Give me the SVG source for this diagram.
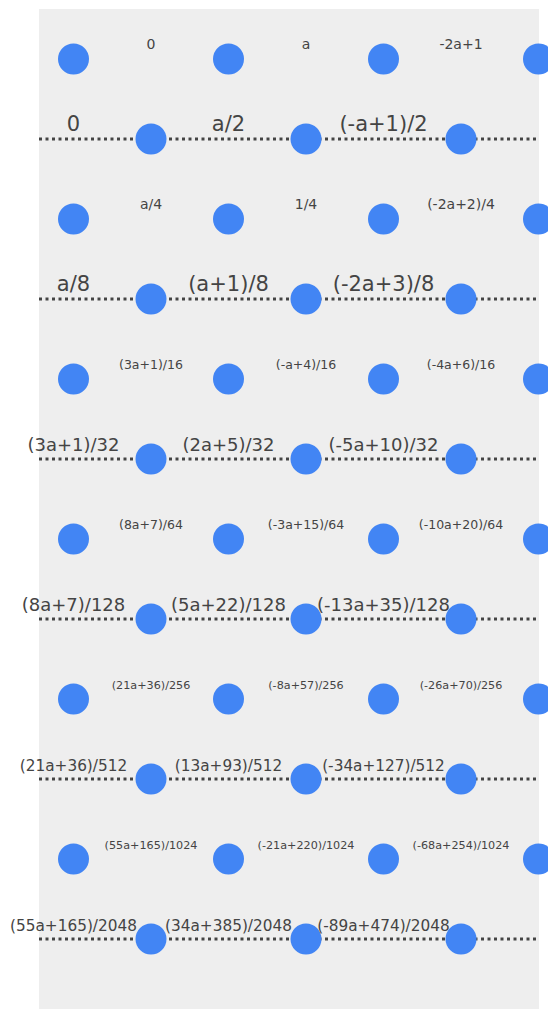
<svg xmlns="http://www.w3.org/2000/svg" width="548" height="1019" viewBox="0 0 548 1019">
<style>
.n{fill:#4285f4}
.l{fill:#444;font-family:"DejaVu Sans",sans-serif;text-anchor:middle}
.s1{font-size:14px}.s2{font-size:12.5px}.s3{font-size:11.2px}
.b1{font-size:21px}.b2{font-size:18px}.b3{font-size:15.3px}
.d{stroke:#444;stroke-width:3;stroke-dasharray:3 3.5;fill:none}
</style>
<rect x="39" y="9" width="500" height="1000" fill="#eeeeee"/>
<g id="connectors">
<line class="d" x1="39" y1="139" x2="539" y2="139"/>
<line class="d" x1="39" y1="299" x2="539" y2="299"/>
<line class="d" x1="39" y1="459" x2="539" y2="459"/>
<line class="d" x1="39" y1="619" x2="539" y2="619"/>
<line class="d" x1="39" y1="779" x2="539" y2="779"/>
<line class="d" x1="39" y1="939" x2="539" y2="939"/>
</g>
<g id="r1">
<g id="n1a"><circle class="n" cx="73.5" cy="59" r="15.5"/></g>
<g id="n1b"><circle class="n" cx="228.5" cy="59" r="15.5"/></g>
<g id="n1c"><circle class="n" cx="383.5" cy="59" r="15.5"/></g>
<g id="n1d"><circle class="n" cx="538.5" cy="59" r="15.5"/></g>
<text class="l s1" x="151" y="49">0</text>
<text class="l s1" x="306" y="49">a</text>
<text class="l s1" x="461" y="49">-2a+1</text>
</g>
<g id="r2">
<g id="n2a"><circle class="n" cx="151" cy="139" r="15.5"/></g>
<g id="n2b"><circle class="n" cx="306" cy="139" r="15.5"/></g>
<g id="n2c"><circle class="n" cx="461" cy="139" r="15.5"/></g>
<text class="l b1" x="73.5" y="131">0</text>
<text class="l b1" x="228.5" y="131">a/2</text>
<text class="l b1" x="383.5" y="131">(-a+1)/2</text>
</g>
<g id="r3">
<g id="n3a"><circle class="n" cx="73.5" cy="219" r="15.5"/></g>
<g id="n3b"><circle class="n" cx="228.5" cy="219" r="15.5"/></g>
<g id="n3c"><circle class="n" cx="383.5" cy="219" r="15.5"/></g>
<g id="n3d"><circle class="n" cx="538.5" cy="219" r="15.5"/></g>
<text class="l s1" x="151" y="209">a/4</text>
<text class="l s1" x="306" y="209">1/4</text>
<text class="l s1" x="461" y="209">(-2a+2)/4</text>
</g>
<g id="r4">
<g id="n4a"><circle class="n" cx="151" cy="299" r="15.5"/></g>
<g id="n4b"><circle class="n" cx="306" cy="299" r="15.5"/></g>
<g id="n4c"><circle class="n" cx="461" cy="299" r="15.5"/></g>
<text class="l b1" x="73.5" y="291">a/8</text>
<text class="l b1" x="228.5" y="291">(a+1)/8</text>
<text class="l b1" x="383.5" y="291">(-2a+3)/8</text>
</g>
<g id="r5">
<g id="n5a"><circle class="n" cx="73.5" cy="379" r="15.5"/></g>
<g id="n5b"><circle class="n" cx="228.5" cy="379" r="15.5"/></g>
<g id="n5c"><circle class="n" cx="383.5" cy="379" r="15.5"/></g>
<g id="n5d"><circle class="n" cx="538.5" cy="379" r="15.5"/></g>
<text class="l s2" x="151" y="369">(3a+1)/16</text>
<text class="l s2" x="306" y="369">(-a+4)/16</text>
<text class="l s2" x="461" y="369">(-4a+6)/16</text>
</g>
<g id="r6">
<g id="n6a"><circle class="n" cx="151" cy="459" r="15.5"/></g>
<g id="n6b"><circle class="n" cx="306" cy="459" r="15.5"/></g>
<g id="n6c"><circle class="n" cx="461" cy="459" r="15.5"/></g>
<text class="l b2" x="73.5" y="451">(3a+1)/32</text>
<text class="l b2" x="228.5" y="451">(2a+5)/32</text>
<text class="l b2" x="383.5" y="451">(-5a+10)/32</text>
</g>
<g id="r7">
<g id="n7a"><circle class="n" cx="73.5" cy="539" r="15.5"/></g>
<g id="n7b"><circle class="n" cx="228.5" cy="539" r="15.5"/></g>
<g id="n7c"><circle class="n" cx="383.5" cy="539" r="15.5"/></g>
<g id="n7d"><circle class="n" cx="538.5" cy="539" r="15.5"/></g>
<text class="l s2" x="151" y="529">(8a+7)/64</text>
<text class="l s2" x="306" y="529">(-3a+15)/64</text>
<text class="l s2" x="461" y="529">(-10a+20)/64</text>
</g>
<g id="r8">
<g id="n8a"><circle class="n" cx="151" cy="619" r="15.5"/></g>
<g id="n8b"><circle class="n" cx="306" cy="619" r="15.5"/></g>
<g id="n8c"><circle class="n" cx="461" cy="619" r="15.5"/></g>
<text class="l b2" x="73.5" y="611">(8a+7)/128</text>
<text class="l b2" x="228.5" y="611">(5a+22)/128</text>
<text class="l b2" x="383.5" y="611">(-13a+35)/128</text>
</g>
<g id="r9">
<g id="n9a"><circle class="n" cx="73.5" cy="699" r="15.5"/></g>
<g id="n9b"><circle class="n" cx="228.5" cy="699" r="15.5"/></g>
<g id="n9c"><circle class="n" cx="383.5" cy="699" r="15.5"/></g>
<g id="n9d"><circle class="n" cx="538.5" cy="699" r="15.5"/></g>
<text class="l s3" x="151" y="689">(21a+36)/256</text>
<text class="l s3" x="306" y="689">(-8a+57)/256</text>
<text class="l s3" x="461" y="689">(-26a+70)/256</text>
</g>
<g id="r10">
<g id="n10a"><circle class="n" cx="151" cy="779" r="15.5"/></g>
<g id="n10b"><circle class="n" cx="306" cy="779" r="15.5"/></g>
<g id="n10c"><circle class="n" cx="461" cy="779" r="15.5"/></g>
<text class="l b3" x="73.5" y="771">(21a+36)/512</text>
<text class="l b3" x="228.5" y="771">(13a+93)/512</text>
<text class="l b3" x="383.5" y="771">(-34a+127)/512</text>
</g>
<g id="r11">
<g id="n11a"><circle class="n" cx="73.5" cy="859" r="15.5"/></g>
<g id="n11b"><circle class="n" cx="228.5" cy="859" r="15.5"/></g>
<g id="n11c"><circle class="n" cx="383.5" cy="859" r="15.5"/></g>
<g id="n11d"><circle class="n" cx="538.5" cy="859" r="15.5"/></g>
<text class="l s3" x="151" y="849">(55a+165)/1024</text>
<text class="l s3" x="306" y="849">(-21a+220)/1024</text>
<text class="l s3" x="461" y="849">(-68a+254)/1024</text>
</g>
<g id="r12">
<g id="n12a"><circle class="n" cx="151" cy="939" r="15.5"/></g>
<g id="n12b"><circle class="n" cx="306" cy="939" r="15.5"/></g>
<g id="n12c"><circle class="n" cx="461" cy="939" r="15.5"/></g>
<text class="l b3" x="73.5" y="931">(55a+165)/2048</text>
<text class="l b3" x="228.5" y="931">(34a+385)/2048</text>
<text class="l b3" x="383.5" y="931">(-89a+474)/2048</text>
</g>
</svg>
